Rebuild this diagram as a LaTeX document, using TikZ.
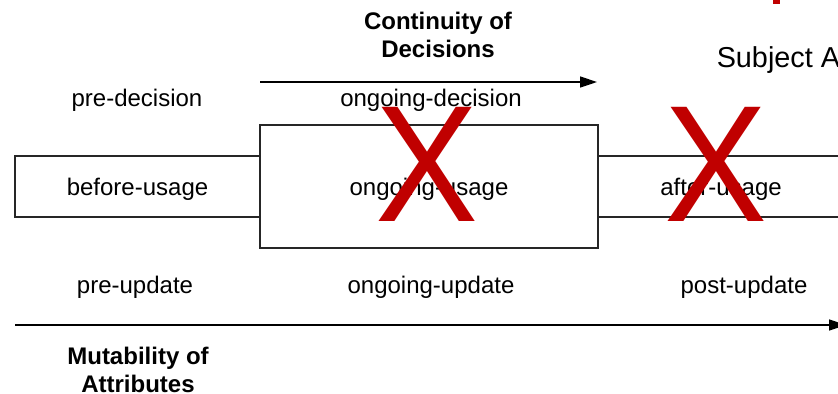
\documentclass[tikz,border=0pt]{standalone}
\usepackage{fontspec}
\setmainfont{Liberation Sans}
\usetikzlibrary{arrows.meta,positioning}
\definecolor{xred}{RGB}{192,0,0}

\begin{document}
\begin{tikzpicture}
[x=0.5pt, y=-0.5pt, line width=0.75pt, >={Triangle[length=8.5pt,width=5.5pt]},
usage/.style={rectangle, draw=black!85, minimum height=30.5pt, inner sep=0pt, text height=11.8pt, text depth=2.5pt, font=\fontsize{12}{14}\selectfont},
phase/.style={inner sep=0pt, font=\fontsize{12}{14}\selectfont},
axislabel/.style={inner sep=0pt, align=center, font=\fontsize{12}{14}\selectfont\bfseries},
cross/.style={inner sep=0pt, text=xred, xscale=0.93, font=\fontsize{83}{83}\selectfont}]

\useasboundingbox (0,0) rectangle (838,393);
\clip (0,0) rectangle (838,393);

% usage phases
\node[usage, minimum width=122.5pt] (before) at (137.5,186.5) {before-usage};
\node[usage, minimum width=169pt, minimum height=61.5pt] (ongoing) at (429,186.5) {ongoing-usage};
\node[usage, minimum width=123pt] (after) at (721,186.5) {after-usage};

% decisions
\node[phase] (predec) at (137,100) {pre-decision};
\node[phase] (ongdec) at (431,100) {ongoing-decision};
\coordinate (decstart) at (260,82);
\coordinate (decend) at (597,82);
\draw[->] (decstart) -- (decend);
\node[axislabel] (continuity) at (438,35) {Continuity of\\Decisions};

% updates
\node[phase] (preupd) at (135,287) {pre-update};
\node[phase] (ongupd) at (431,287) {ongoing-update};
\node[phase] (postupd) at (744,287) {post-update};
\coordinate (updstart) at (15,325);
\coordinate (updend) at (846,325);
\draw[->] (updstart) -- (updend);
\node[axislabel] (mutability) at (138,370) {Mutability of\\Attributes};

\node[inner sep=0pt, anchor=west, font=\fontsize{14.4}{16}\selectfont] (subject) at (716,60) {Subject A};
\fill[xred] (773,0) rectangle (780,4);

% crossed out phases
\node[cross] (xongoing) at (427,164) {X};
\node[cross] (xafter) at (716,164) {X};
\end{tikzpicture}
\end{document}
